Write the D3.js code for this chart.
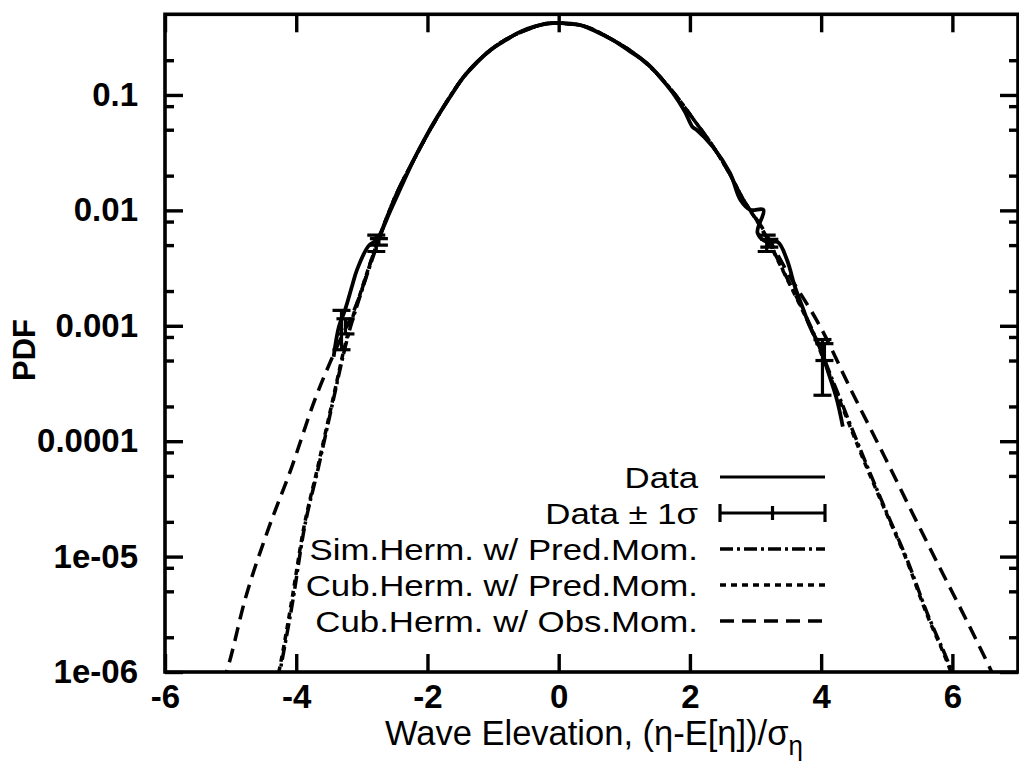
<!DOCTYPE html>
<html><head><meta charset="utf-8">
<script src="https://cdn.jsdelivr.net/npm/d3@7/dist/d3.min.js"></script>
<style>
body{margin:0;background:#fff}
svg text{font-family:"Liberation Sans",Arial,Helvetica,sans-serif;fill:#000}
</style>
</head><body>
<svg id="c" width="1019" height="769"></svg>
<script>
// ---------- data ----------
const xTicks = [-6, -4, -2, 0, 2, 4, 6];
const xTickLabels = ["-6", "-4", "-2", "0", "2", "4", "6"];
const yTicks = [1e-6, 1e-5, 1e-4, 1e-3, 1e-2, 1e-1];
const yTickLabels = ["1e-06", "1e-05", "0.0001", "0.001", "0.01", "0.1"];
const yMinorTicks = [2e-6, 5e-6, 8e-6, 2e-5, 5e-5, 8e-5, 2e-4, 5e-4, 8e-4,
                     2e-3, 5e-3, 8e-3, 2e-2, 5e-2, 8e-2, 2e-1];

const seriesNames = ["Data", "Data \u00B1 1\u03C3", "Sim.Herm. w/ Pred.Mom.",
                     "Cub.Herm. w/ Pred.Mom.", "Cub.Herm. w/ Obs.Mom."];

// Data (solid)
const dataX = [-3.43, -3.35, -3.26, -3.15, -3.07, -2.90, -2.77, -2.56, -2.40, -2.21,
               -2.02, -1.85, -1.65, -1.45, -1.25, -1.04, -0.80, -0.59, -0.35, -0.09,
               0.10, 0.32, 0.57, 0.82, 1.08, 1.34, 1.55, 1.74, 1.92, 2.04,
               2.10, 2.35, 2.61, 2.77, 2.92, 3.12, 3.03, 3.18, 3.34, 3.48,
               3.60, 3.73, 3.83, 3.98, 4.11, 4.24, 4.33];
const dataY = [0.00054, 0.00098, 0.00135, 0.0022, 0.0031, 0.0049, 0.0056, 0.0101, 0.016, 0.0274,
               0.044, 0.0646, 0.097, 0.143, 0.19, 0.245, 0.30, 0.352, 0.395, 0.42,
               0.418, 0.404, 0.355, 0.30, 0.24, 0.189, 0.142, 0.104, 0.072, 0.0528,
               0.050, 0.0355, 0.0211, 0.0123, 0.0101, 0.0101, 0.0064, 0.0053, 0.0053, 0.00372,
               0.00218, 0.00138, 0.00098, 0.000658, 0.000392, 0.000229, 0.000134];

// Data +/- 1 sigma error bars
const errX  = [-3.31, -3.25, -2.78, -2.74, 3.17, 3.21, 4.02, 4.05];
const errLo = [0.00062, 0.00085, 0.0044, 0.0050, 0.0044, 0.0048, 0.00025, 0.00050];
const errHi = [0.00136, 0.00115, 0.0061, 0.0057, 0.0061, 0.0056, 0.00076, 0.00070];

// Sim.Herm. w/ Pred.Mom. (dash-dot)
const simX = [-4.28, -4.235, -4.05, -3.89, -3.66, -3.435, -3.22, -2.99, -2.79, -2.5,
              -2.2, -1.85, -1.45, -1.0, -0.5, -0.1, 0.3, 0.8, 1.3, 1.75,
              2.05, 2.35, 2.6, 2.8, 3.1, 3.45, 3.85, 4.26, 4.70, 5.0,
              5.31, 5.61, 5.92, 6.02];
const simY = [8.0e-7, 1.1e-6, 4.2e-6, 1.6e-5, 6.0e-5, 2.28e-4, 7.8e-4, 2.1e-3, 4.6e-3, 0.0128,
              0.028, 0.064, 0.143, 0.255, 0.365, 0.42, 0.405, 0.305, 0.196, 0.105,
              0.062, 0.036, 0.021, 0.0128, 0.0069, 0.0028, 0.00096, 0.000255, 6.1e-5, 2.4e-5,
              9.4e-6, 3.3e-6, 1.28e-6, 9.3e-7];

// Cub.Herm. w/ Pred.Mom. (dotted)
const predX = [-4.30, -4.25, -4.067, -3.90, -3.671, -3.443, -3.23, -3.0, -2.8, -2.5,
               -2.2, -1.85, -1.45, -1.0, -0.5, -0.1, 0.3, 0.8, 1.3, 1.75,
               2.05, 2.35, 2.6, 2.8, 3.1, 3.45, 3.85, 4.25, 4.69, 4.99,
               5.30, 5.60, 5.905, 6.0];
const predY = [8.0e-7, 1.1e-6, 4.2e-6, 1.6e-5, 6.0e-5, 2.28e-4, 7.8e-4, 2.1e-3, 4.6e-3, 0.0128,
               0.028, 0.064, 0.143, 0.255, 0.365, 0.42, 0.405, 0.305, 0.196, 0.105,
               0.062, 0.036, 0.021, 0.0128, 0.0068, 0.00275, 0.00093, 0.000251, 6.0e-5, 2.4e-5,
               9.4e-6, 3.27e-6, 1.28e-6, 9.3e-7];

// Cub.Herm. w/ Obs.Mom. (dashed)
const obsX = [-5.12, -5.041, -4.782, -4.447, -4.067, -3.717, -3.40, -3.06, -2.80, -2.5,
              -2.2, -1.85, -1.45, -1.0, -0.5, -0.1, 0.3, 0.8, 1.3, 1.75,
              2.05, 2.35, 2.6, 2.8, 3.1, 3.5, 4.0, 4.45, 4.99, 5.388,
              5.799, 6.209, 6.559, 6.65];
const obsY = [8.0e-7, 1.1e-6, 4.2e-6, 1.6e-5, 6.0e-5, 2.28e-4, 6.2e-4, 1.65e-3, 4.6e-3, 0.0128,
              0.028, 0.064, 0.143, 0.255, 0.365, 0.42, 0.405, 0.305, 0.196, 0.105,
              0.062, 0.036, 0.021, 0.0128, 0.0071, 0.00282, 0.00095, 0.000282, 6.9e-5, 2.4e-5,
              8.2e-6, 2.85e-6, 1.12e-6, 8.7e-7];

// ---------- layout ----------
const svg = d3.select("#c");
const M = {l: 165, r: 1018, t: 14.3, b: 672};
const x = d3.scaleLinear().domain([-6, 7]).range([M.l, M.r]);
const y = d3.scaleLog().domain([1e-6, 0.5]).range([M.b, M.t]);

const defs = svg.append("defs");
defs.append("clipPath").attr("id", "plotclip").append("rect")
  .attr("x", M.l).attr("y", M.t).attr("width", M.r - M.l).attr("height", M.b - M.t);

const zip = (xs, ys) => xs.map((v, i) => [v, ys[i]]);
const lineM = d3.line().x(d => x(d[0])).y(d => y(d[1])).curve(d3.curveMonotoneX);
const lineC = d3.line().x(d => x(d[0])).y(d => y(d[1])).curve(d3.curveCatmullRom.alpha(0.5));

const plot = svg.append("g").attr("clip-path", "url(#plotclip)");
const LW = 3.5;

const styles = {
  sim:  "13,4,3,4",
  pred: "6,5",
  obs:  "14,8"
};

plot.append("path").attr("d", lineM(zip(obsX, obsY)))
  .attr("fill", "none").attr("stroke", "#000").attr("stroke-width", LW)
  .attr("stroke-dasharray", styles.obs);
plot.append("path").attr("d", lineM(zip(predX, predY)))
  .attr("fill", "none").attr("stroke", "#000").attr("stroke-width", LW)
  .attr("stroke-dasharray", styles.pred);
plot.append("path").attr("d", lineM(zip(simX, simY)))
  .attr("fill", "none").attr("stroke", "#000").attr("stroke-width", LW)
  .attr("stroke-dasharray", styles.sim);
plot.append("path").attr("d", lineC(zip(dataX, dataY)))
  .attr("fill", "none").attr("stroke", "#000").attr("stroke-width", 3.8)
  .attr("stroke-linejoin", "round");

// error bars
const capW = 9;
const eb = plot.append("g").attr("stroke", "#000").attr("stroke-width", 3.2);
errX.forEach((xv, i) => {
  const px = x(xv);
  eb.append("line").attr("x1", px).attr("x2", px).attr("y1", y(errLo[i])).attr("y2", y(errHi[i]));
  eb.append("line").attr("x1", px - capW).attr("x2", px + capW).attr("y1", y(errLo[i])).attr("y2", y(errLo[i]));
  eb.append("line").attr("x1", px - capW).attr("x2", px + capW).attr("y1", y(errHi[i])).attr("y2", y(errHi[i]));
});

// ---------- axes ----------
const tickFont = g => g.selectAll("text")
  .style("font-size", "33px").style("font-weight", "bold")
  .style("font-family", '"Liberation Sans",Arial,sans-serif').attr("fill", "#000");
const tickLines = g => {
  g.select(".domain").remove();
  g.selectAll("line").attr("stroke", "#000").attr("stroke-width", 3.4);
};

svg.append("g").attr("transform", `translate(0,${M.b})`)
  .call(d3.axisBottom(x).tickValues(xTicks).tickSize(-18).tickPadding(13)
        .tickFormat((d, i) => xTickLabels[i]))
  .call(tickLines).call(tickFont);
svg.append("g").attr("transform", `translate(0,${M.t})`)
  .call(d3.axisTop(x).tickValues(xTicks).tickSize(-18).tickFormat(""))
  .call(tickLines);
svg.append("g").attr("transform", `translate(${M.l},0)`)
  .call(d3.axisLeft(y).tickValues(yTicks).tickSize(-18).tickPadding(27)
        .tickFormat((d, i) => yTickLabels[i]))
  .call(tickLines).call(tickFont);
svg.append("g").attr("transform", `translate(${M.l},0)`)
  .call(d3.axisLeft(y).tickValues(yMinorTicks).tickSize(-9).tickFormat(""))
  .call(tickLines);
svg.append("g").attr("transform", `translate(${M.r},0)`)
  .call(d3.axisRight(y).tickValues(yTicks).tickSize(-18).tickFormat(""))
  .call(tickLines);
svg.append("g").attr("transform", `translate(${M.r},0)`)
  .call(d3.axisRight(y).tickValues(yMinorTicks).tickSize(-9).tickFormat(""))
  .call(tickLines);

// frame
svg.append("rect").attr("x", M.l).attr("y", M.t)
  .attr("width", M.r - M.l).attr("height", M.b - M.t)
  .attr("fill", "none").attr("stroke", "#000").attr("stroke-width", 3.6);

// axis titles
svg.append("text").attr("transform", "translate(35,350) rotate(-90)")
  .attr("text-anchor", "middle").style("font-size", "31px").style("font-weight", "bold")
  .text("PDF");

const xl = svg.append("text").attr("x", 0).attr("y", 0).style("font-size", "36px");
xl.append("tspan").text("Wave Elevation, (\u03B7-E[\u03B7])/\u03C3");
xl.append("tspan").attr("dy", 10).style("font-size", "27px").text("\u03B7");
const bb = xl.node().getBBox();
const targetW = 418, targetL = 385, baseY = 745;
xl.attr("transform", `translate(${targetL},${baseY}) scale(${targetW / bb.width},1)`);

// ---------- legend ----------
const legRows = [477, 513, 549, 585, 621];
const legTextR = 698, legX1 = 720, legX2 = 825;
const lg = svg.append("g");
const lgText = lg.append("g").attr("transform", `translate(${legTextR},0) scale(1.16,1)`);
seriesNames.forEach((name, i) => {
  lgText.append("text").attr("x", 0).attr("y", legRows[i] + 11)
    .attr("text-anchor", "end").style("font-size", "30px").text(name);
});
lg.append("line").attr("x1", legX1).attr("x2", legX2).attr("y1", legRows[0]).attr("y2", legRows[0])
  .attr("stroke", "#000").attr("stroke-width", 3.2);
const ey = legRows[1];
[[legX1, legX2, ey, ey], [legX1, legX1, ey - 9, ey + 9], [legX2, legX2, ey - 9, ey + 9],
 [(legX1 + legX2) / 2, (legX1 + legX2) / 2, ey - 7, ey + 7]].forEach(s => {
  lg.append("line").attr("x1", s[0]).attr("x2", s[1]).attr("y1", s[2]).attr("y2", s[3])
    .attr("stroke", "#000").attr("stroke-width", 3.2);
});
[["sim", 2], ["pred", 3], ["obs", 4]].forEach(([k, i]) => {
  lg.append("line").attr("x1", legX1).attr("x2", legX2).attr("y1", legRows[i]).attr("y2", legRows[i])
    .attr("stroke", "#000").attr("stroke-width", LW).attr("stroke-dasharray", styles[k]);
});
</script>
</body></html>
